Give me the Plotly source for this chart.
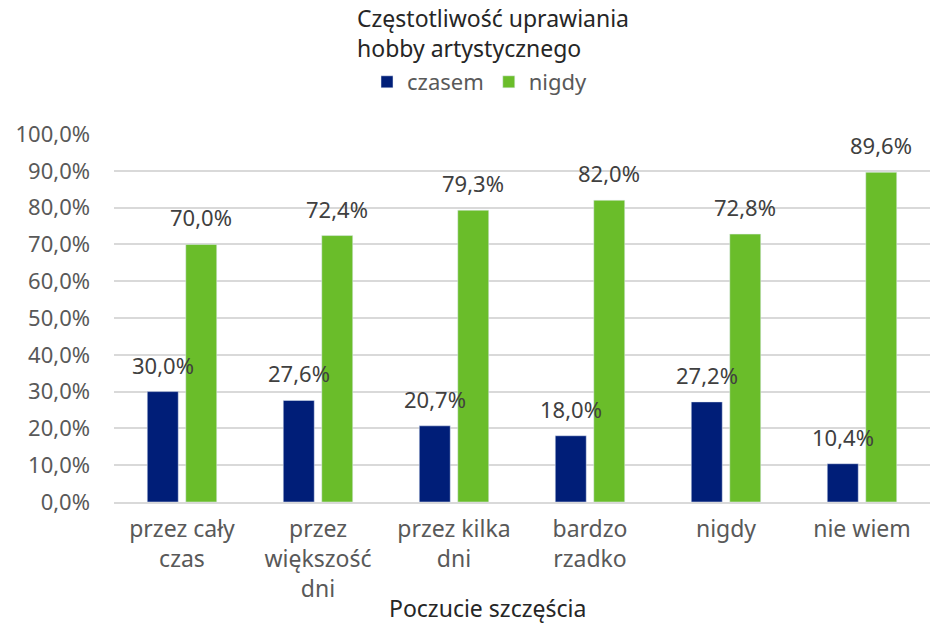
import plotly.graph_objects as go

categories = ["przez cały<br>czas", "przez<br>większość<br>dni", "przez kilka<br>dni",
              "bardzo<br>rzadko", "nigdy", "nie wiem"]
czasem = [30.0, 27.6, 20.7, 18.0, 27.2, 10.4]
nigdy = [70.0, 72.4, 79.3, 82.0, 72.8, 89.6]
y_ticks = [0, 10, 20, 30, 40, 50, 60, 70, 80, 90, 100]
y_tick_labels = ["0,0%", "10,0%", "20,0%", "30,0%", "40,0%", "50,0%",
                 "60,0%", "70,0%", "80,0%", "90,0%", "100,0%"]

FONT = "Noto Sans"
TXT = "#404040"
W, H = 931, 623
L, R, T, B = 114, 1, 134, 121
PH = H - T - B
BARGAP, GROUPGAP = 0.434, 0.195
slot = (W - L - R) / len(categories) * (1 - BARGAP) / 2

fig = go.Figure()
series = [("czasem", czasem, "#001E78", -slot / 2), ("nigdy", nigdy, "#6ABD2A", slot / 2)]
for name, vals, col, dx in series:
    fig.add_trace(go.Bar(name=name, x=categories, y=vals, marker_color=col))
    for c, v in zip(categories, vals):
        fig.add_annotation(x=c, y=v, xref="x", yref="y", xshift=dx, yshift=10,
                           text=f"{v:.1f}%".replace(".", ","), showarrow=False,
                           xanchor="center", yanchor="bottom",
                           font=dict(size=22, color=TXT, family=FONT))

fig.add_annotation(text="Częstotliwość uprawiania<br>hobby artystycznego",
                   xref="paper", yref="paper", x=(355 - L) / (W - L - R), y=1 + (T) / PH,
                   xanchor="left", yanchor="top", align="left", showarrow=False,
                   font=dict(size=23, color="#262626", family=FONT))
fig.add_annotation(text="Poczucie szczęścia",
                   xref="paper", yref="paper", x=(487 - L) / (W - L - R), y=-(608 - (H - B)) / PH,
                   xanchor="center", yanchor="middle", showarrow=False,
                   font=dict(size=23, color="#262626", family=FONT))

fig.update_layout(
    width=W, height=H,
    margin=dict(l=L, r=R, t=T, b=B, autoexpand=False),
    paper_bgcolor="white", plot_bgcolor="white",
    font=dict(family=FONT, color=TXT),
    bargap=BARGAP, bargroupgap=GROUPGAP,
    legend=dict(orientation="h", xref="container", yref="container",
                x=480/931, xanchor="center", y=1 - 82/623, yanchor="middle",
                font=dict(size=22, color="#595959", family=FONT),
                itemwidth=30, traceorder="normal"),
    xaxis=dict(tickfont=dict(size=23, color="#595959", family=FONT),
               showline=True, linecolor="#d9d9d9", linewidth=1.5, ticks="",
               automargin=False, ticklabelstandoff=6),
    yaxis=dict(range=[0, 100], tickvals=y_ticks, ticktext=y_tick_labels,
               tickfont=dict(size=22, color="#595959", family=FONT),
               gridcolor="#d9d9d9", gridwidth=1.5, zeroline=False, ticks="",
               ticklabelstandoff=23, automargin=False),
)

fig.write_html("out.html", config={"displayModeBar": False},
               post_script="document.body.style.margin='0';")
